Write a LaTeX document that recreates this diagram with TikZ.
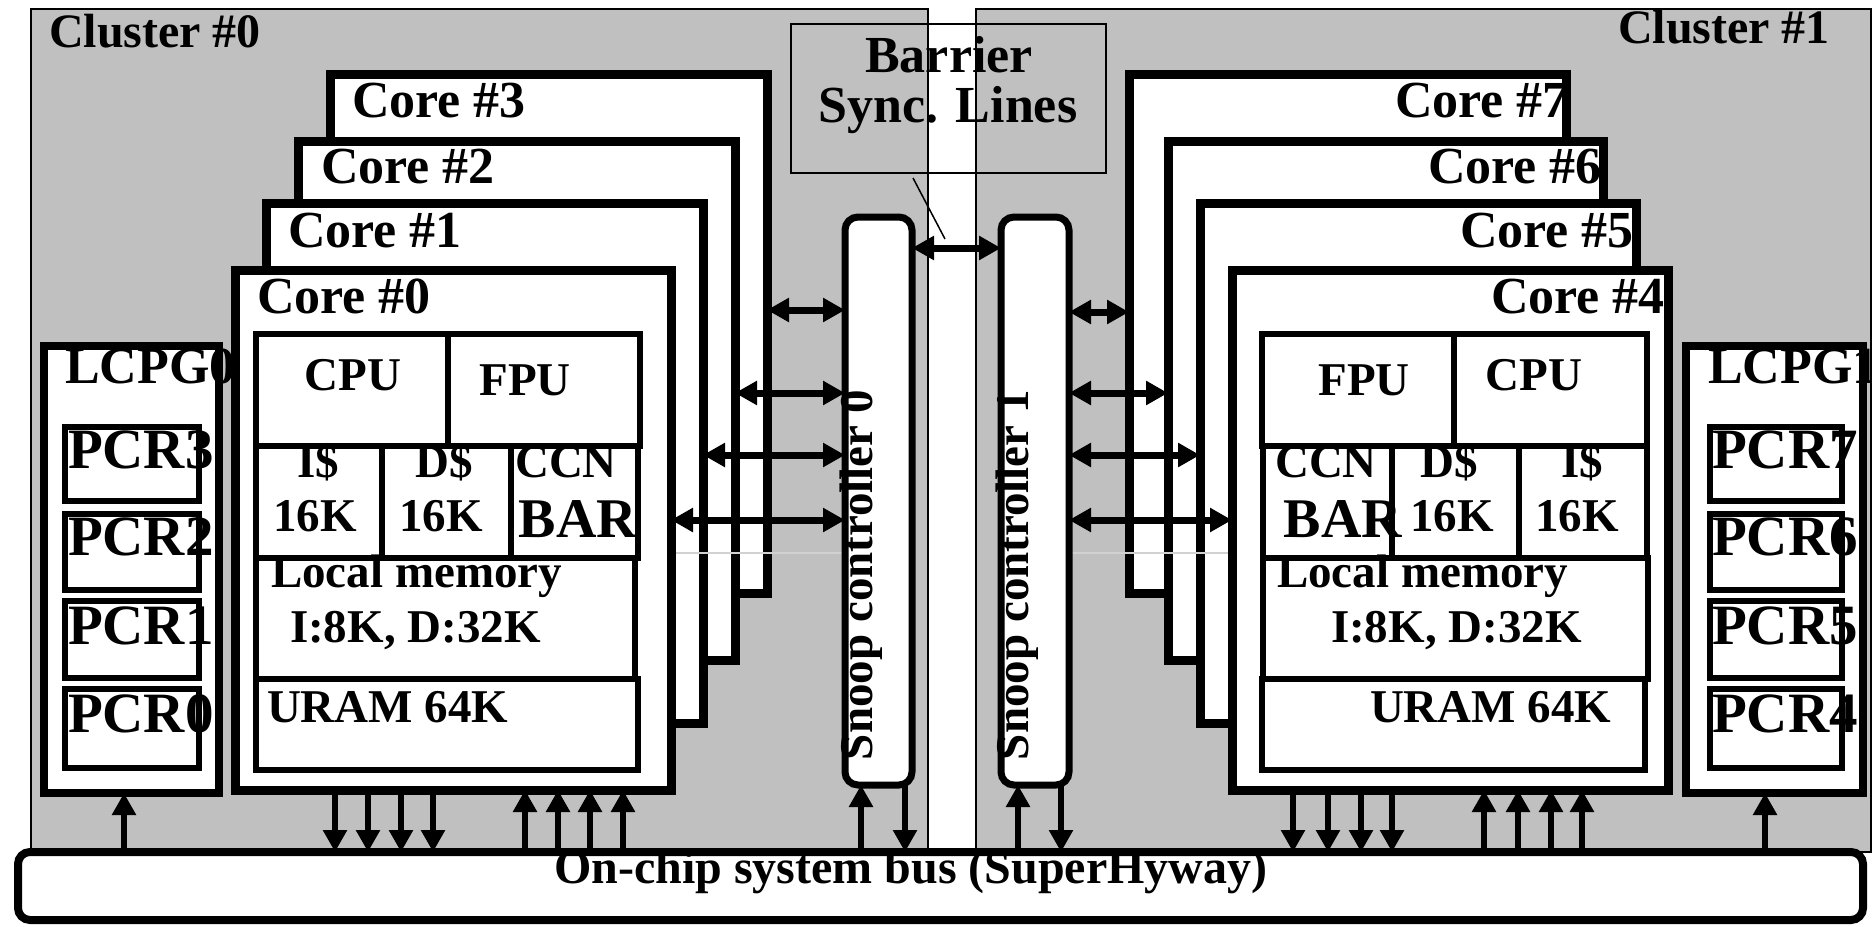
\documentclass[tikz,border=0pt]{standalone}
\usepackage{fontspec}
\setmainfont{Liberation Serif}
\usetikzlibrary{arrows.meta}
\definecolor{clgray}{RGB}{192,192,192}
\newcommand\bx[6]{\node[#6, minimum width={((#4)-(#2))*0.5pt}, minimum height={((#5)-(#3))*0.5pt}] (#1) at ({((#2)+(#4))/2},{((#3)+(#5))/2}) {};}
\newcommand\myfs[1]{\fontsize{#1}{#1}\selectfont\bfseries}
\begin{document}
\begin{tikzpicture}[x=0.5pt,y=-0.5pt,
  box/.style={draw, fill=white, inner sep=0pt, outer sep=0pt},
  cluster/.style={draw, fill=clgray, line width=0.75pt, inner sep=0pt, outer sep=0pt},
  corebox/.style={box, line width=4.5pt},
  cell/.style={box, line width=3pt},
  lcpg/.style={box, line width=4pt},
  pcr/.style={box, line width=3pt},
  snoop/.style={box, line width=3.5pt, rounded corners=6.5pt},
  busbox/.style={box, line width=4pt, rounded corners=6pt},
  lbl/.style={anchor=base west, inner sep=0pt, outer sep=0pt},
  ctr/.style={anchor=base, inner sep=0pt, outer sep=0pt},
  corelbl/.style={lbl, font=\myfs{26}},
  celltxt/.style={ctr, font=\myfs{23.5}},
  celltxtw/.style={lbl, font=\myfs{23.5}},
  pcrtxt/.style={lbl, font=\myfs{28.5}},
  uar/.style={line width=3pt, -{Triangle[length=11pt,width=11.5pt]}},
  dar/.style={line width=3.5pt, {Triangle[length=11pt,width=11.5pt]}-{Triangle[length=11pt,width=11.5pt]}}
]
\path[use as bounding box, fill=white] (0,0) rectangle (1872,926);

% clusters
\bx{cl0}{31}{9}{928}{852}{cluster}
\bx{cl1}{976}{9}{1871}{852}{cluster}
\node[lbl, font=\myfs{24}] (lcl0) at (49,47) {Cluster \#0};
\node[lbl, font=\myfs{24}] (lcl1) at (1618,43) {Cluster \#1};

% barrier
\bx{bar}{791}{24}{1106}{173}{draw, line width=0.85pt, inner sep=0pt, outer sep=0pt}
\node[ctr, font=\myfs{26}] (tbar1) at (949,72) {Barrier};
\node[ctr, font=\myfs{26}] (tbar2) at (948,122) {Sync. Lines};
\coordinate (bl1) at (913,178);
\coordinate (bl2) at (945,239);
\draw[line width=0.75pt] (bl1) -- (bl2);

% LCPG0
\bx{lc0}{44}{346}{219}{793}{lcpg}
\node[lbl, font=\myfs{26}] (tlc0) at (65,383) {LCPG0};
\bx{p3}{65}{427}{199}{501}{pcr}
\bx{p2}{65}{514}{199}{590}{pcr}
\bx{p1}{65}{601}{199}{678}{pcr}
\bx{p0}{65}{689}{199}{768}{pcr}
\node[pcrtxt] (tp3) at (68,468) {PCR3};
\node[pcrtxt] (tp2) at (68,555) {PCR2};
\node[pcrtxt] (tp1) at (68,644) {PCR1};
\node[pcrtxt] (tp0) at (68,732) {PCR0};

% LCPG1
\bx{lc1}{1686}{346}{1863}{793}{lcpg}
\node[lbl, font=\myfs{26}] (tlc1) at (1708,383) {LCPG1};
\bx{p7}{1710}{427}{1842}{501}{pcr}
\bx{p6}{1710}{514}{1842}{590}{pcr}
\bx{p5}{1710}{601}{1842}{678}{pcr}
\bx{p4}{1710}{689}{1842}{768}{pcr}
\node[pcrtxt] (tp7) at (1712,468) {PCR7};
\node[pcrtxt] (tp6) at (1712,555) {PCR6};
\node[pcrtxt] (tp5) at (1712,644) {PCR5};
\node[pcrtxt] (tp4) at (1712,732) {PCR4};

% cores left
\bx{c3}{330}{74}{767}{593}{corebox}
\node[corelbl] (tc3) at (352,117) {Core \#3};
\bx{c2}{298}{141}{735}{660}{corebox}
\node[corelbl] (tc2) at (321,183) {Core \#2};
\bx{c1}{266}{203}{703}{723}{corebox}
\node[corelbl] (tc1) at (288,247) {Core \#1};
% cores right
\bx{c7}{1129}{74}{1566}{593}{corebox}
\node[corelbl] (tc7) at (1395,117) {Core \#7};
\bx{c6}{1168}{141}{1603}{660}{corebox}
\node[corelbl] (tc6) at (1428,183) {Core \#6};
\bx{c5}{1200}{203}{1636}{723}{corebox}
\node[corelbl] (tc5) at (1460,247) {Core \#5};

\coordinate (gl1) at (640,553);
\coordinate (gl2) at (843,553);
\coordinate (gl3) at (1071,553);
\coordinate (gl4) at (1240,553);
\draw[black!18, line width=0.6pt] (gl1) -- (gl2);
\draw[black!18, line width=0.6pt] (gl3) -- (gl4);

\bx{c0}{235}{270}{671}{790}{corebox}
\node[corelbl] (tc0) at (257,313) {Core \#0};
\bx{c4}{1232}{270}{1668}{790}{corebox}
\node[corelbl] (tc4) at (1491,313) {Core \#4};

% core 0 internals
\bx{cpu0}{256}{334}{448}{446}{cell}
\bx{fpu0}{448}{334}{640}{446}{cell}
\bx{ic0}{256}{446}{382}{558}{cell}
\bx{dc0}{382}{446}{511}{558}{cell}
\bx{ccn0}{511}{446}{638}{558}{cell}
\bx{lm0}{256}{558}{635}{679}{cell}
\bx{ur0}{256}{679}{638}{770}{cell}
\node[celltxt] (tcpu0) at (353,390) {CPU};
\node[celltxt] (tfpu0) at (525,395) {FPU};
\node[celltxt] (tic0a) at (318,477) {I\$};
\node[celltxt] (tic0b) at (315,531) {16K};
\node[celltxt] (tdc0a) at (444,477) {D\$};
\node[celltxt] (tdc0b) at (441,531) {16K};
\node[celltxt] (tccn0) at (566,477) {CCN};
\node[ctr, font=\myfs{28}] (tbar0) at (578,537) {BAR};
\node[celltxtw] (tlm0a) at (271,587) {Local memory};
\node[celltxtw] (tlm0b) at (290,642) {I:8K, D:32K};
\node[celltxtw] (tur0) at (267,722) {URAM 64K};

% core 4 internals
\bx{fpu4}{1262}{334}{1454}{446}{cell}
\bx{cpu4}{1454}{334}{1647}{446}{cell}
\bx{ccn4}{1263}{446}{1392}{558}{cell}
\bx{dc4}{1392}{446}{1519}{558}{cell}
\bx{ic4}{1519}{446}{1647}{558}{cell}
\bx{lm4}{1263}{558}{1648}{679}{cell}
\bx{ur4}{1262}{679}{1645}{770}{cell}
\node[celltxt] (tfpu4) at (1364,395) {FPU};
\node[celltxt] (tcpu4) at (1534,390) {CPU};
\node[celltxt] (tccn4) at (1326,477) {CCN};
\node[ctr, font=\myfs{28}] (tbar4) at (1343,537) {BAR};
\node[celltxt] (tdc4a) at (1449,477) {D\$};
\node[celltxt] (tdc4b) at (1452,531) {16K};
\node[celltxt] (tic4a) at (1582,477) {I\$};
\node[celltxt] (tic4b) at (1577,531) {16K};
\node[celltxtw] (tlm4a) at (1277,587) {Local memory};
\node[celltxtw] (tlm4b) at (1331,642) {I:8K, D:32K};
\node[celltxtw] (tur4) at (1370,722) {URAM 64K};

% snoop controllers
\bx{s0}{845}{217}{912}{785}{snoop}
\bx{s1}{1001}{217}{1069}{785}{snoop}
\node[rotate=90, anchor=base west, inner sep=0pt, outer sep=0pt, font=\myfs{23.5}] (ts0) at (872,760) {Snoop controller 0};
\node[rotate=90, anchor=base west, inner sep=0pt, outer sep=0pt, font=\myfs{23.5}] (ts1) at (1028,760) {Snoop controller 1};

% core <-> snoop arrows
\draw[dar] (c3.east |- 0,310) -- (s0.west |- 0,310);
\draw[dar] (c2.east |- 0,393) -- (s0.west |- 0,393);
\draw[dar] (c1.east |- 0,455) -- (s0.west |- 0,455);
\draw[dar] (c0.east |- 0,520) -- (s0.west |- 0,520);
\draw[dar] (s1.east |- 0,312) -- (c7.west |- 0,312);
\draw[dar] (s1.east |- 0,393) -- (c6.west |- 0,393);
\draw[dar] (s1.east |- 0,455) -- (c5.west |- 0,455);
\draw[dar] (s1.east |- 0,520) -- (c4.west |- 0,520);
\draw[dar] (s0.east |- 0,248) -- (s1.west |- 0,248);

% bus
\bx{bus}{18}{852}{1863}{920}{busbox}

% bus arrows
\draw[uar] (bus.north -| 124,0) -- (lc0.south -| 124,0);
\foreach \xx in {335,368,401,433} \draw[uar] (c0.south -| \xx,0) -- (bus.north -| \xx,0);
\foreach \xx in {525,558,590,623} \draw[uar] (bus.north -| \xx,0) -- (c0.south -| \xx,0);
\draw[uar] (bus.north -| 861,0) -- (s0.south -| 861,0);
\draw[uar] (s0.south -| 905,0) -- (bus.north -| 905,0);
\draw[uar] (bus.north -| 1018,0) -- (s1.south -| 1018,0);
\draw[uar] (s1.south -| 1061,0) -- (bus.north -| 1061,0);
\foreach \xx in {1293,1328,1361,1392} \draw[uar] (c4.south -| \xx,0) -- (bus.north -| \xx,0);
\foreach \xx in {1484,1518,1551,1582} \draw[uar] (bus.north -| \xx,0) -- (c4.south -| \xx,0);
\draw[uar] (bus.north -| 1765,0) -- (lc1.south -| 1765,0);

\node[lbl, font=\myfs{24}] (tbus) at (554,883) {On-chip system bus (SuperHyway)};
\end{tikzpicture}
\end{document}
